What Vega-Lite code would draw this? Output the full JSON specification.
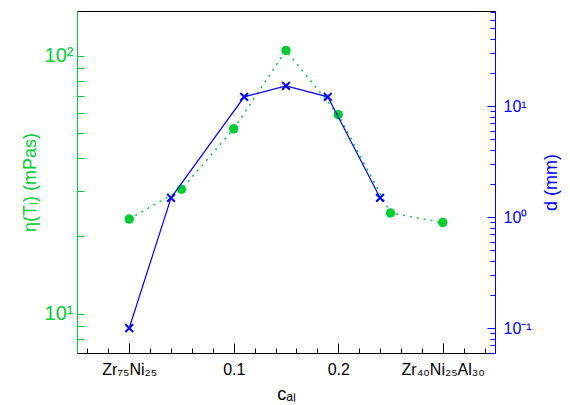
{
  "$schema": "https://vega.github.io/schema/vega-lite/v6.json",
  "width": 418,
  "height": 342,
  "autosize": "none",
  "padding": {"left": 77, "top": 11, "right": 75, "bottom": 52},
  "background": "white",
  "config": {
    "font": "Liberation Sans",
    "view": {"stroke": "black", "strokeWidth": 1},
    "axis": {"grid": false, "titleFontWeight": "normal"}
  },
  "datasets": {
    "eta": [
      {"c": 0, "eta": 23.3},
      {"c": 0.05, "eta": 30.4},
      {"c": 0.1, "eta": 52.1},
      {"c": 0.15, "eta": 104.8},
      {"c": 0.2, "eta": 59.1},
      {"c": 0.25, "eta": 24.6},
      {"c": 0.3, "eta": 22.6}
    ],
    "d": [
      {"c": 0, "d": 0.1},
      {"c": 0.04, "d": 1.49},
      {"c": 0.11, "d": 12.1},
      {"c": 0.15, "d": 15.2},
      {"c": 0.19, "d": 12.1},
      {"c": 0.24, "d": 1.49}
    ]
  },
  "encoding": {
    "x": {
      "field": "c",
      "type": "quantitative",
      "scale": {"domain": [-0.05, 0.35], "nice": false, "zero": false},
      "axis": {
        "values": [-0.04, -0.02, 0, 0.02, 0.04, 0.06, 0.08, 0.1, 0.12, 0.14, 0.16, 0.18, 0.2, 0.22, 0.24, 0.26, 0.28, 0.3, 0.32, 0.34],
        "labelExpr": "abs(datum.value) < 1e-9 ? 'Zr₇₅Ni₂₅' : abs(datum.value - 0.1) < 1e-9 ? '0.1' : abs(datum.value - 0.2) < 1e-9 ? '0.2' : abs(datum.value - 0.3) < 1e-9 ? 'Zr₄₀Ni₂₅Al₃₀' : ''",
        "tickSize": {"condition": {"test": "abs(datum.value * 10 - round(datum.value * 10)) < 1e-6", "value": -10}, "value": -5},
        "labelPadding": 18,
        "labelFontSize": 16,
        "labelColor": "black",
        "domainColor": "black",
        "tickColor": "black",
        "title": "cₐₗ",
        "titleFontSize": 18,
        "titleColor": "black",
        "titlePadding": 8
      }
    }
  },
  "layer": [
    {
      "data": {"name": "eta"},
      "encoding": {
        "y": {
          "field": "eta",
          "type": "quantitative",
          "scale": {"type": "log", "domain": [7.06, 149], "nice": false},
          "axis": {
            "orient": "left",
            "values": [8, 9, 10, 20, 30, 40, 50, 60, 70, 80, 90, 100],
            "labelExpr": "datum.value == 10 ? '10¹' : datum.value == 100 ? '10²' : ''",
            "tickSize": -7,
            "labelPadding": 11,
            "labelFontSize": 20,
            "labelColor": "#00cc33",
            "domainColor": "#00cc33",
            "tickColor": "#00cc33",
            "title": "η(Tₗ) (mPas)",
            "titleFontSize": 18,
            "titleColor": "#00cc33",
            "titlePadding": 5
          }
        }
      },
      "layer": [
        {"mark": {"type": "line", "color": "#00cc33", "strokeDash": [2, 5], "strokeWidth": 1.5}},
        {"mark": {"type": "point", "shape": "circle", "filled": true, "size": 90, "color": "#00cc33", "opacity": 1}}
      ]
    },
    {
      "data": {"name": "d"},
      "encoding": {
        "y": {
          "field": "d",
          "type": "quantitative",
          "scale": {"type": "log", "domain": [0.0596, 71.8], "nice": false},
          "axis": {
            "orient": "right",
            "values": [0.06, 0.07, 0.08, 0.09, 0.1, 0.2, 0.3, 0.4, 0.5, 0.6, 0.7, 0.8, 0.9, 1, 2, 3, 4, 5, 6, 7, 8, 9, 10, 20, 30, 40, 50, 60, 70],
            "labelExpr": "datum.value == 0.1 ? '10⁻¹' : datum.value == 1 ? '10⁰' : datum.value == 10 ? '10¹' : ''",
            "tickSize": {"condition": {"test": "datum.value == 0.1 || datum.value == 1 || datum.value == 10", "value": -8}, "value": -5},
            "labelPadding": 16,
            "labelFontSize": 16,
            "labelColor": "blue",
            "domainColor": "blue",
            "tickColor": "blue",
            "title": "d (mm)",
            "titleAngle": -90,
            "titleFontSize": 18,
            "titleColor": "blue",
            "titlePadding": 29
          }
        }
      },
      "layer": [
        {"mark": {"type": "line", "color": "blue", "strokeWidth": 1.2}},
        {"mark": {"type": "point", "shape": "M-1,-1L1,1M1,-1L-1,1", "filled": false, "size": 60, "strokeWidth": 2, "color": "blue", "opacity": 1}}
      ]
    }
  ],
  "resolve": {"scale": {"y": "independent"}}
}
